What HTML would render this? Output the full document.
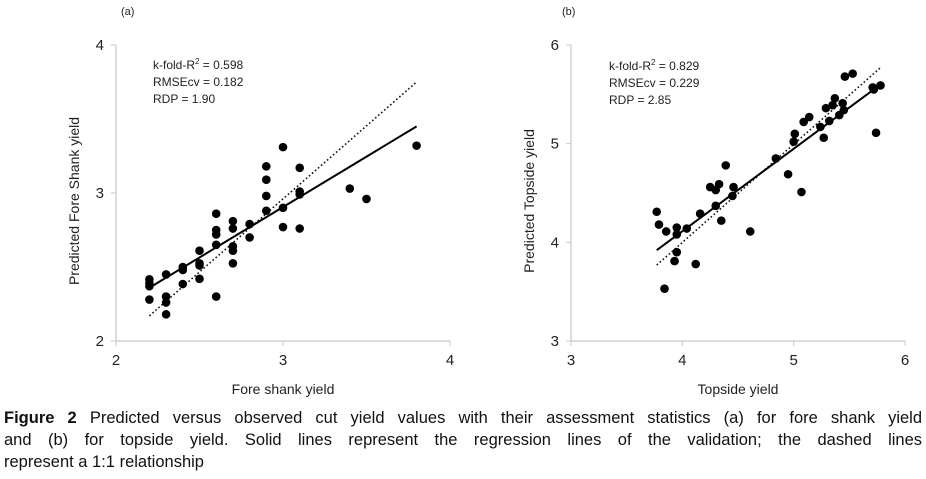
<!DOCTYPE html>
<html><head><meta charset="utf-8"><style>
body{margin:0;background:#fff;width:926px;height:479px;overflow:hidden;font-family:"Liberation Sans",sans-serif;}
#cap{position:absolute;left:4px;top:407px;width:918px;font-size:16.5px;line-height:22px;color:#111;}
#cap div{white-space:nowrap;}
#cap .j{text-align:justify;text-align-last:justify;white-space:normal;}
</style></head><body>
<svg id="chart" width="926" height="479" style="position:absolute;left:0;top:0"></svg>
<div id="cap"><div class="j"><b>Figure 2</b> Predicted versus observed cut yield values with their assessment statistics (a) for fore shank yield</div><div class="j">and (b) for topside yield. Solid lines represent the regression lines of the validation; the dashed lines</div><div>represent a 1:1 relationship</div></div>
<script>
const aX=[2.2,2.2,2.2,2.2,2.3,2.3,2.3,2.3,2.4,2.4,2.4,2.5,2.5,2.5,2.5,2.6,2.6,2.6,2.6,2.6,2.7,2.7,2.7,2.7,2.7,2.8,2.8,2.9,2.9,2.9,2.9,3.0,3.0,3.0,3.1,3.1,3.1,3.1,3.4,3.5,3.8];
const aY=[2.417,2.39,2.37,2.28,2.45,2.30,2.26,2.18,2.50,2.48,2.385,2.61,2.525,2.51,2.42,2.86,2.75,2.72,2.65,2.30,2.81,2.76,2.64,2.61,2.525,2.79,2.70,3.18,3.09,2.98,2.88,3.31,2.90,2.77,3.17,3.01,2.99,2.76,3.03,2.96,3.32];
const aReg=[[2.2,2.36],[3.8,3.45]];
const aOne=[[2.2,2.17],[3.8,3.75]];
const bX=[3.77,3.79,3.84,3.855,3.93,3.95,3.95,3.95,4.04,4.12,4.16,4.25,4.30,4.30,4.33,4.35,4.39,4.45,4.46,4.61,4.84,4.95,5.0,5.01,5.07,5.09,5.14,5.24,5.27,5.29,5.32,5.35,5.37,5.41,5.44,5.45,5.46,5.53,5.71,5.72,5.78,5.74];
const bY=[4.31,4.18,3.53,4.11,3.81,3.90,4.15,4.08,4.14,3.78,4.29,4.56,4.53,4.37,4.59,4.22,4.78,4.47,4.56,4.11,4.85,4.69,5.02,5.10,4.51,5.22,5.27,5.17,5.06,5.36,5.23,5.39,5.46,5.29,5.41,5.34,5.68,5.71,5.57,5.55,5.59,5.11];
const bReg=[[3.77,3.92],[5.72,5.55]];
const bOne=[[3.77,3.77],[5.78,5.77]];
const aXT=[2,3,4], aYT=[2,3,4], bXT=[3,4,5,6], bYT=[3,4,5,6];
const svg=document.getElementById('chart');
const NS='http://www.w3.org/2000/svg';
function mk(t,a){const e=document.createElementNS(NS,t);for(const k in a)e.setAttribute(k,a[k]);svg.appendChild(e);return e;}
function panel(p){
  const sx=v=>p.x0+(v-p.xmin)/(p.xmax-p.xmin)*(p.x1-p.x0);
  const sy=v=>p.y0-(v-p.ymin)/(p.ymax-p.ymin)*(p.y0-p.y1);
  let e=mk('line',{x1:p.x0,y1:p.y0,x2:p.x1,y2:p.y0,stroke:'#c8c8c8','stroke-width':1.2});
  
  e=mk('line',{x1:p.x0,y1:p.y0,x2:p.x0,y2:p.y1,stroke:'#c8c8c8','stroke-width':1.2});
  
  p.xt.forEach(v=>{mk('line',{x1:sx(v),y1:p.y0,x2:sx(v),y2:p.y0+5,stroke:'#c8c8c8'});
    e=mk('text',{x:sx(v),y:p.y0+24,'text-anchor':'middle','font-size':15,fill:'#222'});e.textContent=v;
    });
  p.yt.forEach(v=>{mk('line',{x1:p.x0-5,y1:sy(v),x2:p.x0,y2:sy(v),stroke:'#c8c8c8'});
    e=mk('text',{x:p.x0-12,y:sy(v)+5,'text-anchor':'end','font-size':15,fill:'#222'});e.textContent=v;
    });
  e=mk('line',{x1:sx(p.one[0][0]),y1:sy(p.one[0][1]),x2:sx(p.one[1][0]),y2:sy(p.one[1][1]),stroke:'#111','stroke-width':1.6,'stroke-dasharray':'1.6,2.4'});
  
  e=mk('line',{x1:sx(p.reg[0][0]),y1:sy(p.reg[0][1]),x2:sx(p.reg[1][0]),y2:sy(p.reg[1][1]),stroke:'#000','stroke-width':2});
  
  p.X.forEach((v,i)=>{e=mk('circle',{cx:sx(v),cy:sy(p.Y[i]),r:4.3,fill:'#000'});
    });
  p.stats.forEach((s,i)=>{e=mk('text',{x:p.sx,y:p.sy+i*17,'font-size':12,fill:'#222'});e.innerHTML=s;
    });
  e=mk('text',{x:(p.x0+p.x1)/2,y:394,'text-anchor':'middle','font-size':14,fill:'#222'});e.textContent=p.xl;
  
  e=mk('text',{x:0,y:0,'text-anchor':'middle','font-size':14,fill:'#222',transform:`translate(${p.ylx},${(p.y0+p.y1)/2+8}) rotate(-90)`});e.textContent=p.yl;
  
  e=mk('text',{x:p.lx,y:15,'font-size':11,fill:'#222'});e.textContent=p.lab;
  
}
panel({id:'panel-a',x0:116,x1:450,y0:341,y1:45,xmin:2,xmax:4,ymin:2,ymax:4,xt:aXT,yt:aYT,X:aX,Y:aY,reg:aReg,one:aOne,
  stats:['k-fold-R<tspan font-size="8" dy="-5">2</tspan><tspan dy="5"> = 0.598</tspan>','RMSEcv = 0.182','RDP = 1.90'],sx:153,sy:69,
  xl:'Fore shank yield',yl:'Predicted  Fore Shank yield',ylx:79,lx:121,lab:'(a)'});
panel({id:'panel-b',x0:571,x1:905,y0:341,y1:45,xmin:3,xmax:6,ymin:3,ymax:6,xt:bXT,yt:bYT,X:bX,Y:bY,reg:bReg,one:bOne,
  stats:['k-fold-R<tspan font-size="8" dy="-5">2</tspan><tspan dy="5"> = 0.829</tspan>','RMSEcv = 0.229','RDP = 2.85'],sx:609,sy:70,
  xl:'Topside yield',yl:'Predicted Topside yield',ylx:534,lx:562,lab:'(b)'});
</script>
</body></html>
